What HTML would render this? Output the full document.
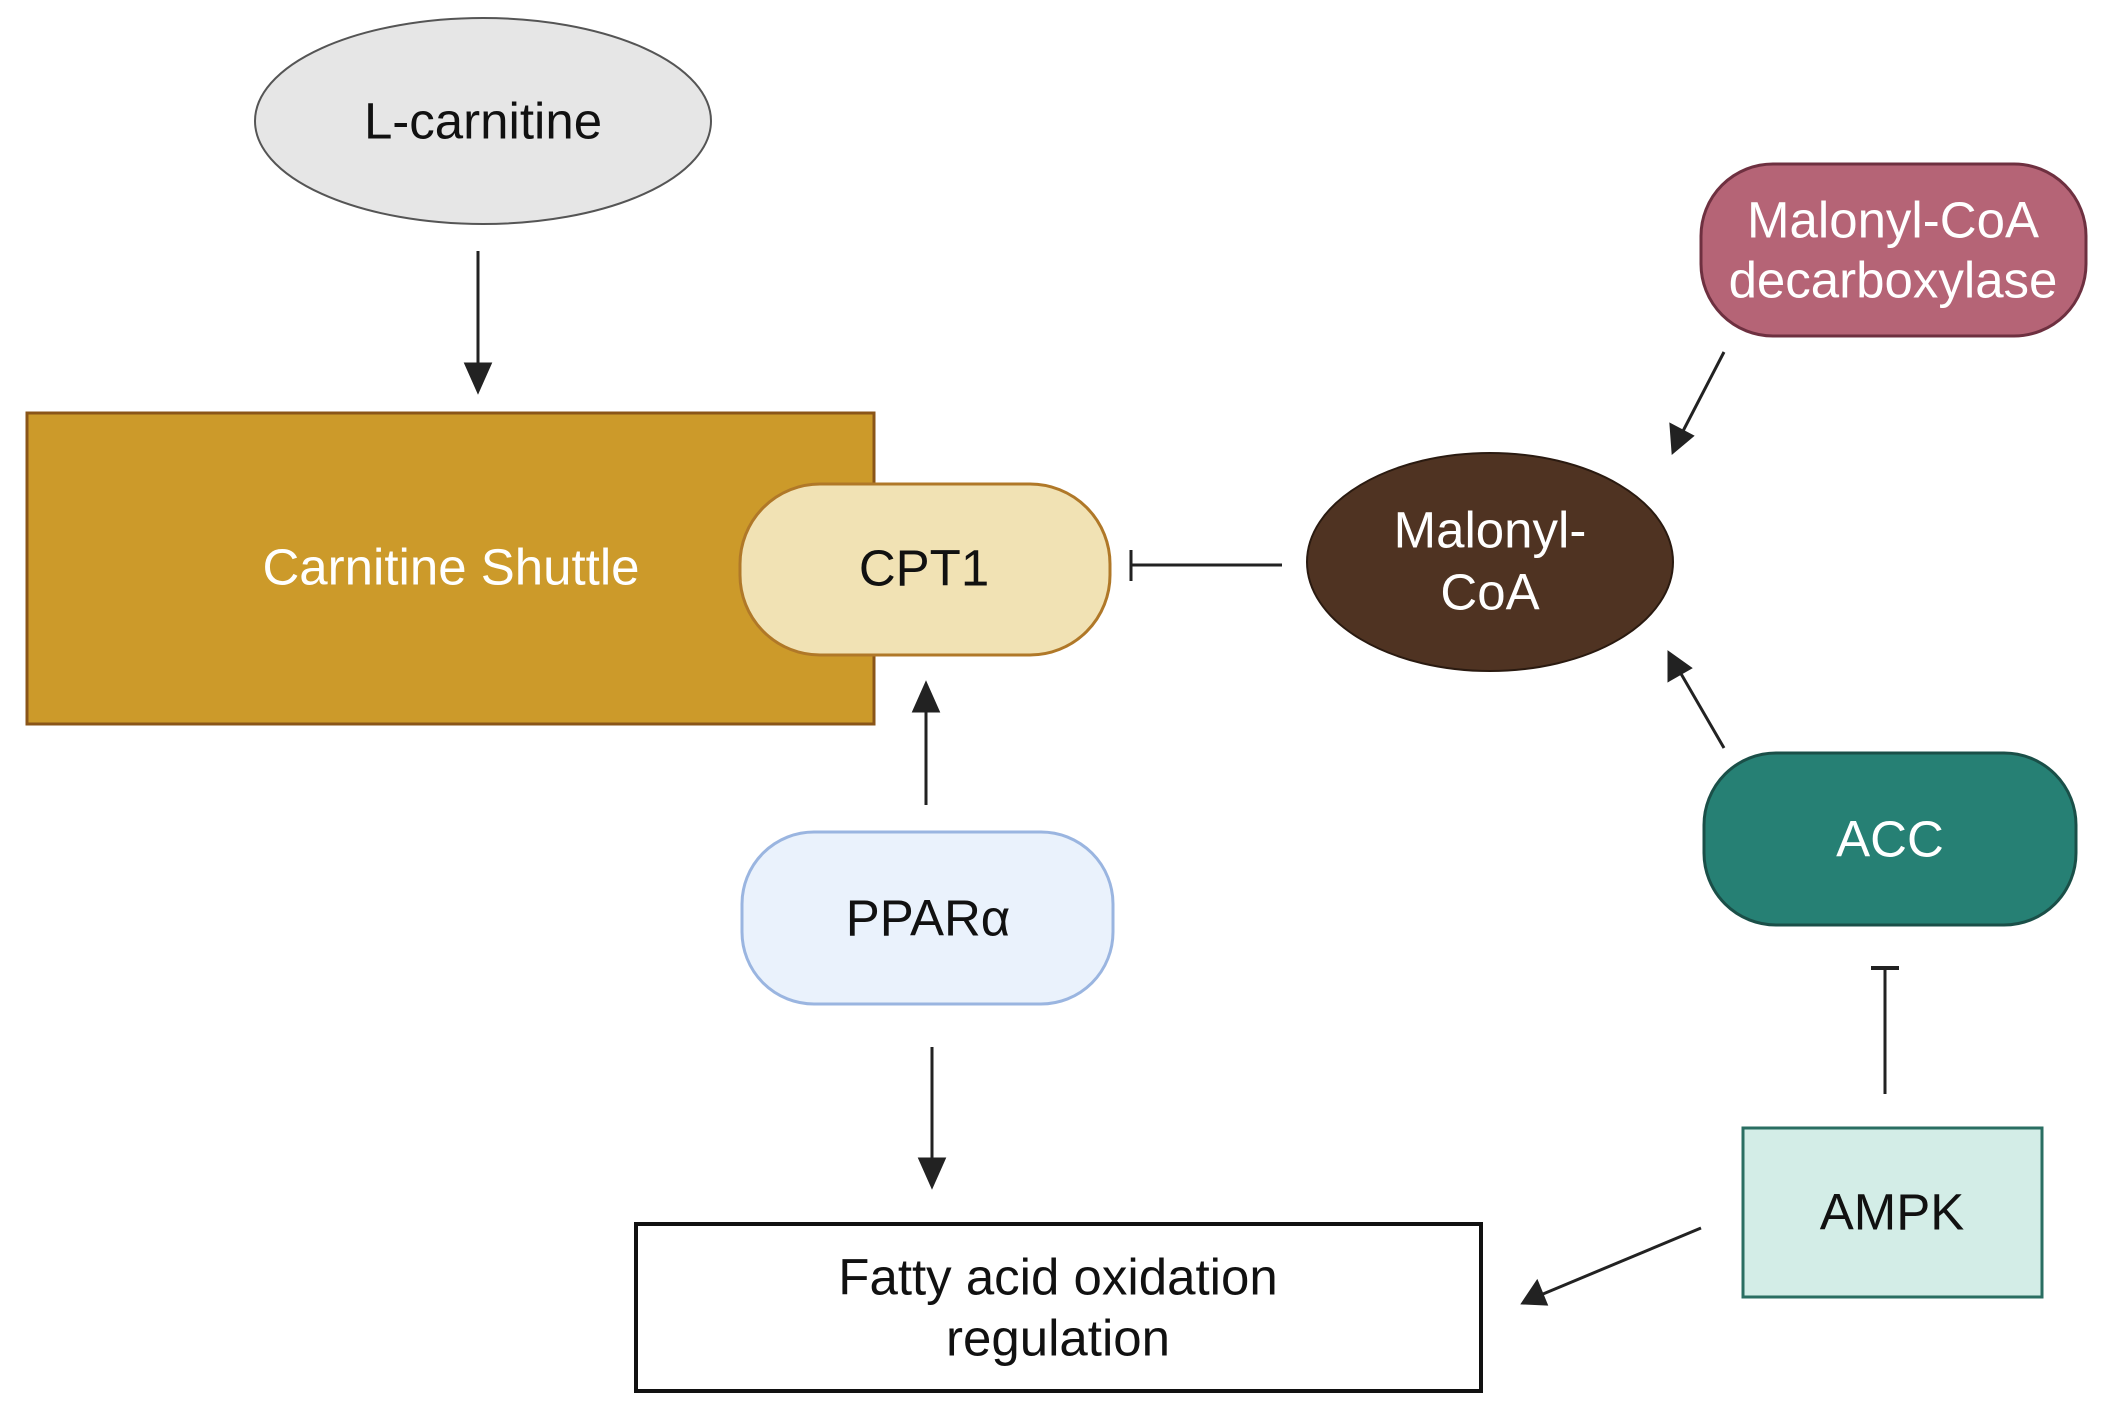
<!DOCTYPE html>
<html><head><meta charset="utf-8"><style>
html,body{margin:0;padding:0;background:#fff;}
svg{display:block;}
text{font-family:"Liberation Sans",sans-serif;text-anchor:middle;dominant-baseline:central;}
</style></head><body>
<svg width="2105" height="1413" viewBox="0 0 2105 1413" xmlns="http://www.w3.org/2000/svg">
<g stroke="#222" stroke-width="3" fill="#222">
<line x1="478" y1="251" x2="478" y2="370"/><polygon points="466,364 490,364 478,391"/>
<line x1="926" y1="805" x2="926" y2="705"/><polygon points="914,711 938,711 926,684"/>
<line x1="932" y1="1047" x2="932" y2="1165"/><polygon points="920,1159 944,1159 932,1186"/>
<line x1="1282" y1="565" x2="1131" y2="565"/><line x1="1131" y1="550" x2="1131" y2="581"/>
<line x1="1724" y1="352" x2="1682" y2="433"/><polygon points="1671,425 1692,436 1673,452"/>
<line x1="1724" y1="748" x2="1680" y2="672"/><polygon points="1669,680 1690,668 1669,653"/>
<line x1="1885" y1="1094" x2="1885" y2="968"/><line x1="1871" y1="968" x2="1899" y2="968" stroke-width="4"/>
<line x1="1701" y1="1228" x2="1543" y2="1294"/><polygon points="1537,1282 1546,1304 1523,1303"/>
</g>
<ellipse cx="483" cy="121" rx="228" ry="103" fill="#e6e6e6" stroke="#555" stroke-width="2"/>
<text x="483" y="121" font-size="51" fill="#111">L-carnitine</text>
<rect x="27" y="413" width="847" height="311" fill="#CC9A2A" stroke="#8a5518" stroke-width="3"/>
<text x="451" y="567" font-size="51" fill="#fff">Carnitine Shuttle</text>
<rect x="740" y="484" width="370" height="171" rx="80" ry="80" fill="#F1E2B4" stroke="#B07828" stroke-width="3"/>
<text x="924" y="568" font-size="51" fill="#111">CPT1</text>
<ellipse cx="1490" cy="562" rx="183" ry="109" fill="#4F3322" stroke="#2a1a10" stroke-width="2"/>
<text x="1490" y="530" font-size="51" fill="#fff">Malonyl-</text>
<text x="1490" y="592" font-size="51" fill="#fff">CoA</text>
<rect x="1701" y="164" width="385" height="172" rx="72" ry="72" fill="#B56476" stroke="#6e3040" stroke-width="3"/>
<text x="1893" y="220" font-size="51" fill="#fff">Malonyl-CoA</text>
<text x="1893" y="280" font-size="51" fill="#fff">decarboxylase</text>
<rect x="1704" y="753" width="372" height="172" rx="72" ry="72" fill="#268074" stroke="#1a4f48" stroke-width="3"/>
<text x="1890" y="839" font-size="51" fill="#fff">ACC</text>
<rect x="742" y="832" width="371" height="172" rx="72" ry="72" fill="#EAF2FC" stroke="#9AB5E0" stroke-width="3"/>
<text x="928" y="918" font-size="51" fill="#111">PPARα</text>
<rect x="1743" y="1128" width="299" height="169" fill="#D3EDE7" stroke="#2A6E62" stroke-width="3"/>
<text x="1892" y="1212" font-size="51" fill="#111">AMPK</text>
<rect x="636" y="1224" width="845" height="167" fill="#fff" stroke="#111" stroke-width="4"/>
<text x="1058" y="1277" font-size="51" fill="#111">Fatty acid oxidation</text>
<text x="1058" y="1338" font-size="51" fill="#111">regulation</text>
</svg>
</body></html>
